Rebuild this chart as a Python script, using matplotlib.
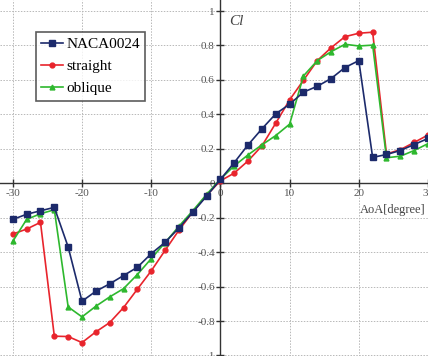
import matplotlib
matplotlib.use("Agg")
import matplotlib.pyplot as plt
import numpy as np

# angle of attack, every 2 degrees
aoa = np.arange(-30, 31, 2)

# lift coefficient
cl_naca = [-0.21, -0.18, -0.16, -0.14, -0.37, -0.685, -0.627, -0.584, -0.536, -0.488,
           -0.409, -0.343, -0.26, -0.169, -0.075, 0.022, 0.12, 0.223, 0.316, 0.403,
           0.459, 0.529, 0.563, 0.608, 0.672, 0.712, 0.15, 0.167, 0.19, 0.225, 0.26]
cl_straight = [-0.295, -0.266, -0.227, -0.888, -0.89, -0.925, -0.863, -0.809, -0.722, -0.615,
               -0.509, -0.39, -0.273, -0.167, -0.07, 0.014, 0.059, 0.13, 0.217, 0.349,
               0.484, 0.598, 0.712, 0.787, 0.851, 0.871, 0.877, 0.17, 0.195, 0.237, 0.28]
cl_oblique = [-0.337, -0.21, -0.177, -0.154, -0.718, -0.776, -0.714, -0.66, -0.612, -0.53,
              -0.438, -0.345, -0.25, -0.16, -0.065, 0.024, 0.101, 0.165, 0.223, 0.277,
              0.343, 0.623, 0.712, 0.764, 0.807, 0.797, 0.802, 0.148, 0.157, 0.19, 0.23]

xticks = [-30, -20, -10, 0, 10, 20, 30]
yticks = [-1, -0.8, -0.6, -0.4, -0.2, 0, 0.2, 0.4, 0.6, 0.8, 1]

plt.rcParams['font.family'] = ['Liberation Serif', 'DejaVu Serif']

fig = plt.figure(figsize=(4.28, 3.56), dpi=100)
ax = fig.add_axes([0, 0, 1, 1])

ax.plot(aoa, cl_naca, color='#1c2a6b', marker='s', markersize=4.5, lw=1.2, label='NACA0024', zorder=4)
ax.plot(aoa, cl_straight, color='#e8242c', marker='o', markersize=3.5, lw=1.2, label='straight', zorder=3)
ax.plot(aoa, cl_oblique, color='#2eb82e', marker='^', markersize=3.5, lw=1.2, label='oblique', zorder=3)

ax.set_xlim(-31.85, 29.43)
ax.set_ylim(-1.003, 1.064)

# axes crossing at the origin
ax.spines['left'].set_position(('data', 0))
ax.spines['bottom'].set_position(('data', 0))
ax.spines['top'].set_visible(False)
ax.spines['right'].set_visible(False)
for s in ('left', 'bottom'):
    ax.spines[s].set_color('#333333')
    ax.spines[s].set_linewidth(1.0)

ax.set_xticks(xticks)
ax.set_yticks(yticks)
ax.set_xticklabels([str(t) for t in xticks])
ax.set_yticklabels(['-1', '-0.8', '-0.6', '-0.4', '-0.2', '0', '0.2', '0.4', '0.6', '0.8', '1'])
ax.tick_params(direction='inout', length=6, width=1, colors='#333333',
               labelcolor='#555555', labelsize=8, pad=1)

ax.grid(True, linestyle=(0, (1.5, 1.5)), color='#b8b8b8', linewidth=0.7)
ax.set_axisbelow(True)

ax.text(1.3, 0.92, 'Cl', fontsize=11, style='italic', color='#444444')
ax.text(20.1, -0.17, 'AoA[degree]', fontsize=9, color='#444444')

leg = ax.legend(loc='upper left', bbox_to_anchor=(0.083, 0.91), fontsize=11,
                frameon=True, fancybox=False, handlelength=1.45, handletextpad=0.2,
                borderpad=0.35, labelspacing=0.55, borderaxespad=0)
leg.get_frame().set_edgecolor('#333333')
leg.get_frame().set_linewidth(1.2)

fig.savefig('out.png', dpi=100)
